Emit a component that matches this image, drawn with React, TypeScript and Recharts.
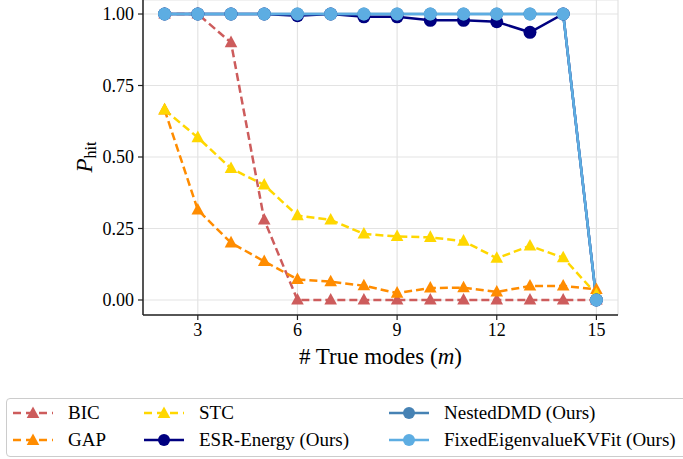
import { LineChart, Line, XAxis, YAxis, CartesianGrid, Label } from "recharts";

// # true modes on x, hit probability on y
const modes = [2, 3, 4, 5, 6, 7, 8, 9, 10, 11, 12, 13, 14, 15];
const bic = [1.0, 1.0, 0.9, 0.28, 0.0, 0.0, 0.0, 0.0, 0.0, 0.0, 0.0, 0.0, 0.0, 0.0];
const gap = [0.665, 0.315, 0.2, 0.135, 0.072, 0.064, 0.05, 0.024, 0.042, 0.043, 0.028, 0.049, 0.049, 0.037];
const stc = [0.665, 0.568, 0.46, 0.402, 0.295, 0.28, 0.231, 0.222, 0.219, 0.206, 0.146, 0.189, 0.148, 0.02];
const esr = [1.0, 1.0, 1.0, 1.0, 0.994, 1.0, 0.99, 0.99, 0.978, 0.978, 0.973, 0.936, 1.0, 0.0];
const nested = [1.0, 1.0, 1.0, 1.0, 1.0, 1.0, 1.0, 1.0, 1.0, 1.0, 1.0, 1.0, 1.0, 0.0];
const fixed = [1.0, 1.0, 1.0, 1.0, 1.0, 1.0, 1.0, 1.0, 1.0, 1.0, 1.0, 1.0, 1.0, 0.0];
const xTicks = [3, 6, 9, 12, 15];
const yTicks = [0, 0.25, 0.5, 0.75, 1.0];

const rows = modes.map((m, i) => ({
  m, bic: bic[i], gap: gap[i], stc: stc[i], esr: esr[i], nested: nested[i], fixed: fixed[i],
}));

const SERIF = "'Liberation Serif', 'Times New Roman', serif";

type S = { key: string; name: string; color: string; marker: "tri" | "dot"; dashed: boolean };
const series: S[] = [
  { key: "bic", name: "BIC", color: "#cd5c5c", marker: "tri", dashed: true },
  { key: "gap", name: "GAP", color: "#ff8c00", marker: "tri", dashed: true },
  { key: "stc", name: "STC", color: "#ffd700", marker: "tri", dashed: true },
  { key: "esr", name: "ESR-Energy (Ours)", color: "#000080", marker: "dot", dashed: false },
  { key: "nested", name: "NestedDMD (Ours)", color: "#4682b4", marker: "dot", dashed: false },
  { key: "fixed", name: "FixedEigenvalueKVFit (Ours)", color: "#5dade2", marker: "dot", dashed: false },
];

function Tri({ cx, cy, color }: { cx?: number; cy?: number; color: string }) {
  if (cx == null || cy == null) return null;
  return <polygon points={`${cx},${cy - 7} ${cx - 6.3},${cy + 4.6} ${cx + 6.3},${cy + 4.6}`} fill={color} />;
}

function Handle({ s }: { s: S }) {
  return (
    <svg width={42} height={16} style={{ display: "block" }}>
      <line x1={1} y1={8} x2={41} y2={8} stroke={s.color} strokeWidth={2.5} strokeDasharray={s.dashed ? "8 5" : undefined} />
      {s.marker === "tri"
        ? <Tri cx={21} cy={8.5} color={s.color} />
        : <circle cx={21} cy={8} r={6} fill={s.color} />}
    </svg>
  );
}

// column x (page coords) and row index
const legendPos: Record<string, [number, number]> = {
  bic: [12, 0], stc: [143, 0], nested: [388, 0],
  gap: [12, 1], esr: [143, 1], fixed: [388, 1],
};

export default function App() {
  return (
    <div style={{ position: "fixed", left: 0, top: 0, width: 683, height: 459, background: "#fff", fontFamily: SERIF, overflow: "hidden" }}>
      <LineChart width={683} height={459} data={rows} margin={{ top: 0, right: 65, bottom: 114, left: 0 }}>
        <CartesianGrid stroke="#e3e3e3" strokeWidth={1.2} />
        <XAxis
          dataKey="m" type="number" domain={[1.35, 15.65]} ticks={xTicks} allowDataOverflow height={30}
          tick={{ fill: "#000", fontSize: 18, fontFamily: SERIF }} tickSize={5} tickMargin={3}
          tickLine={{ stroke: "#222", strokeWidth: 1.2 }} axisLine={{ stroke: "#222", strokeWidth: 1.5 }}
        >
          <Label
            content={({ viewBox }: any) => (
              <text x={viewBox.x + viewBox.width / 2} y={364} textAnchor="middle" fontSize={23} fontFamily={SERIF} fill="#000">
                # True modes (<tspan fontStyle="italic">m</tspan>)
              </text>
            )}
          />
        </XAxis>
        <YAxis
          type="number" domain={[-0.0525, 1.049]} ticks={yTicks} width={143} allowDataOverflow
          tickFormatter={(v: number) => v.toFixed(2)}
          tick={{ fill: "#000", fontSize: 18, fontFamily: SERIF }} tickSize={5} tickMargin={4}
          tickLine={{ stroke: "#222", strokeWidth: 1.2 }} axisLine={{ stroke: "#222", strokeWidth: 1.5 }}
        >
          <Label
            content={() => (
              <text transform="rotate(-90 92 157)" x={92} y={157} textAnchor="middle" fontFamily={SERIF} fill="#000">
                <tspan fontSize={23} fontStyle="italic">P</tspan>
                <tspan fontSize={16} dy={4}>hit</tspan>
              </text>
            )}
          />
        </YAxis>
        {series.map((s) => (
          <Line
            key={s.key} dataKey={s.key} name={s.name} type="linear" stroke={s.color} strokeWidth={2.5}
            strokeDasharray={s.dashed ? "8 4" : undefined}
            dot={s.marker === "tri"
              ? (p: any) => <Tri key={`${s.key}-${p.index}`} cx={p.cx} cy={p.cy} color={s.color} />
              : { r: 6.5, fill: s.color, stroke: "none" }}
            activeDot={false} isAnimationActive={false}
          />
        ))}
      </LineChart>
      <div style={{
        position: "absolute", left: 6, top: 398, width: 700, height: 59, boxSizing: "border-box",
        border: "1.5px solid #cccccc", borderRadius: 4, background: "#fff",
      }}>
        {series.map((s) => {
          const [x, r] = legendPos[s.key];
          return (
            <div key={s.key} style={{
              position: "absolute", left: x - 7, top: 1 + r * 27, height: 26, display: "flex",
              alignItems: "center", fontSize: 19, whiteSpace: "nowrap", color: "#000",
            }}>
              <Handle s={s} />
              <span style={{ marginLeft: 14 }}>{s.name}</span>
            </div>
          );
        })}
      </div>
    </div>
  );
}
